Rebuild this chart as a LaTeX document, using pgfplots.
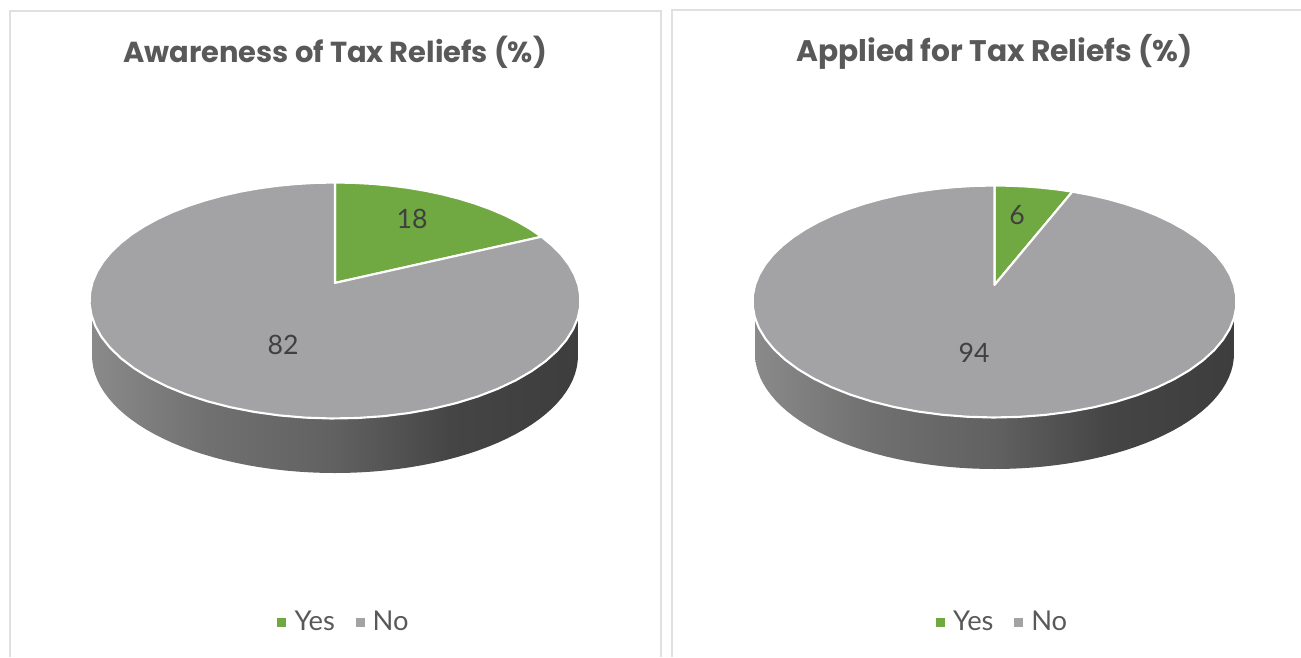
\documentclass[border=0pt]{standalone}
\usepackage{fontspec}
\usepackage{pgfplots}
\usepackage{pgfplotstable}
\pgfplotsset{compat=1.18}
\setmainfont{Lato}
\newfontfamily\titlefont{Poppins}

\definecolor{pieYes}{HTML}{70A842}
\definecolor{pieNo}{HTML}{A3A3A6}
\definecolor{frameGrey}{HTML}{E0E0E0}
\definecolor{titleGrey}{HTML}{595959}
\definecolor{legendGrey}{HTML}{595959}
\definecolor{valueGrey}{HTML}{404040}

% Rim of the disc: light on the left, dark on the right
\pgfdeclarehorizontalshading{pierim}{100bp}{
  color(0bp)=(black!46);
  color(25bp)=(black!46);
  color(37bp)=(black!56);
  color(50bp)=(black!62);
  color(62bp)=(black!73);
  color(75bp)=(black!76);
  color(100bp)=(black!76)}

\pgfplotstableread{
answer value
Yes    18
No     82
}\awareness
\pgfplotstableread{
answer value
Yes    6
No     94
}\applied

% Outline of a slice from share #1 to share #2 (percent), on a tilted disc:
% #3,#4 disc centre, #5,#6 radii, #7 upward shift of the apex (fraction of #6)
\newcommand\sliceoutline[7]{%
  \pgfmathsetmacro\rootk{sqrt(1-#7*#7)}%
  \pgfmathsetmacro\apexy{#4-#6*#7}%
  \xdef\outline{(#3,\apexy)}%
  \pgfmathtruncatemacro\nsteps{ceil((#2-#1)/1.5)+1}%
  \foreach \i in {0,...,\nsteps}{%
    \pgfmathsetmacro\th{3.6*(#1+(#2-#1)*\i/\nsteps)}%
    \pgfmathsetmacro\den{1+#7*cos(\th)}%
    \pgfmathsetmacro\px{#3+#5*sin(\th)*\rootk/\den}%
    \pgfmathsetmacro\py{#4-#6*(cos(\th)+#7)/\den}%
    \xdef\outline{\outline (\px,\py)}%
  }%
}
% Outline of the rim: lower half of the disc, moved down by #5
\newcommand\rimoutline[5]{%
  \pgfmathsetmacro\rimleft{#1-#3}%
  \pgfmathsetmacro\rimright{#1+#3}%
  \xdef\outline{(\rimleft,#2)}%
  \foreach \i in {0,3,...,180}{%
    \pgfmathsetmacro\px{#1-#3*cos(\i)}%
    \pgfmathsetmacro\py{#2+#5+#4*sin(\i)}%
    \xdef\outline{\outline (\px,\py)}%
  }%
  \xdef\outline{\outline (\rimright,#2)}%
}
\newcommand\outlineplot[1]{%
  \edef\tmpplot{\noexpand\addplot[#1] coordinates {\outline} -- cycle;}\tmpplot}

\tikzset{valuelabel/.style={font=\fontsize{20}{22}\selectfont, text=valueGrey}}
\pgfplotsset{
  every axis title shift=0pt,
  panel/.style={
    scale only axis,
    hide axis,
    y dir=reverse,
    ymin=0, ymax=657,
    height=492.75pt,
    title style={font=\titlefont\bfseries\fontsize{21.7}{24}\selectfont,
                 text=titleGrey, anchor=center},
    legend columns=2,
    legend cell align=left,
    legend style={draw=none, fill=none, anchor=center,
      font=\fontsize{20.5}{22}\selectfont, text=legendGrey,
      /tikz/every even column/.append style={column sep=13.5pt}},
    legend image code/.code={
      \path[##1,draw=none] (0pt,-3.4pt) rectangle (6.75pt,3.4pt);
      \path (10pt,0pt);},
  },
  slice/.style={fill=#1, draw=white, line width=1.6pt, line join=round},
}

\begin{document}
\begin{tikzpicture}
\useasboundingbox (0,0) rectangle (975.75pt,492.75pt);

% Left panel
\pgfplotstablegetelem{0}{value}\of\awareness \let\yesval\pgfplotsretval
\pgfplotstablegetelem{1}{value}\of\awareness \let\noval\pgfplotsretval
\begin{axis}[panel, at={(0pt,0pt)}, anchor=south west,
    width=499.5pt, xmin=0, xmax=666,
    title={Awareness of Tax Reliefs (\%)},
    title style={at={(axis description cs:0.503,0.921)}},
    legend style={at={(axis description cs:0.517,0.053)}}]
  \addplot[draw=frameGrey, line width=1.1pt, forget plot]
    coordinates {(10,657) (10,11) (661,11) (661,657)};
  \rimoutline{335}{300.5}{243}{117.5}{55}
  \outlineplot{shading=pierim, draw=none, forget plot}
  \sliceoutline{0}{\yesval}{335}{300.5}{245.5}{118}{0.149}
  \outlineplot{slice=pieYes}
  \sliceoutline{\yesval}{100}{335}{300.5}{245.5}{118}{0.149}
  \outlineplot{slice=pieNo}
  \legend{Yes,No}
  \node[valuelabel] at (axis cs:412,219) {\yesval};
  \node[valuelabel] at (axis cs:283,345) {\noval};
\end{axis}

% Right panel
\pgfplotstablegetelem{0}{value}\of\applied \let\yesval\pgfplotsretval
\pgfplotstablegetelem{1}{value}\of\applied \let\noval\pgfplotsretval
\begin{axis}[panel, at={(499.5pt,0pt)}, anchor=south west,
    width=476.25pt, xmin=666, xmax=1301,
    title={Applied for Tax Reliefs (\%)},
    title style={at={(axis description cs:0.517,0.921)},
                 font=\titlefont\bfseries\fontsize{22.3}{24}\selectfont},
    legend style={at={(axis description cs:0.5307,0.053)}}]
  \addplot[draw=frameGrey, line width=1.1pt, forget plot]
    coordinates {(1301,10) (672,10) (672,657)};
  \rimoutline{994.5}{301.5}{239.5}{115.5}{52}
  \outlineplot{shading=pierim, draw=none, forget plot}
  \sliceoutline{0}{\yesval}{994.5}{301.5}{242}{116}{0.143}
  \outlineplot{slice=pieYes}
  \sliceoutline{\yesval}{100}{994.5}{301.5}{242}{116}{0.143}
  \outlineplot{slice=pieNo}
  \legend{Yes,No}
  \node[valuelabel] at (axis cs:1017,215) {\yesval};
  \node[valuelabel] at (axis cs:974,353) {\noval};
\end{axis}
\end{tikzpicture}
\end{document}
